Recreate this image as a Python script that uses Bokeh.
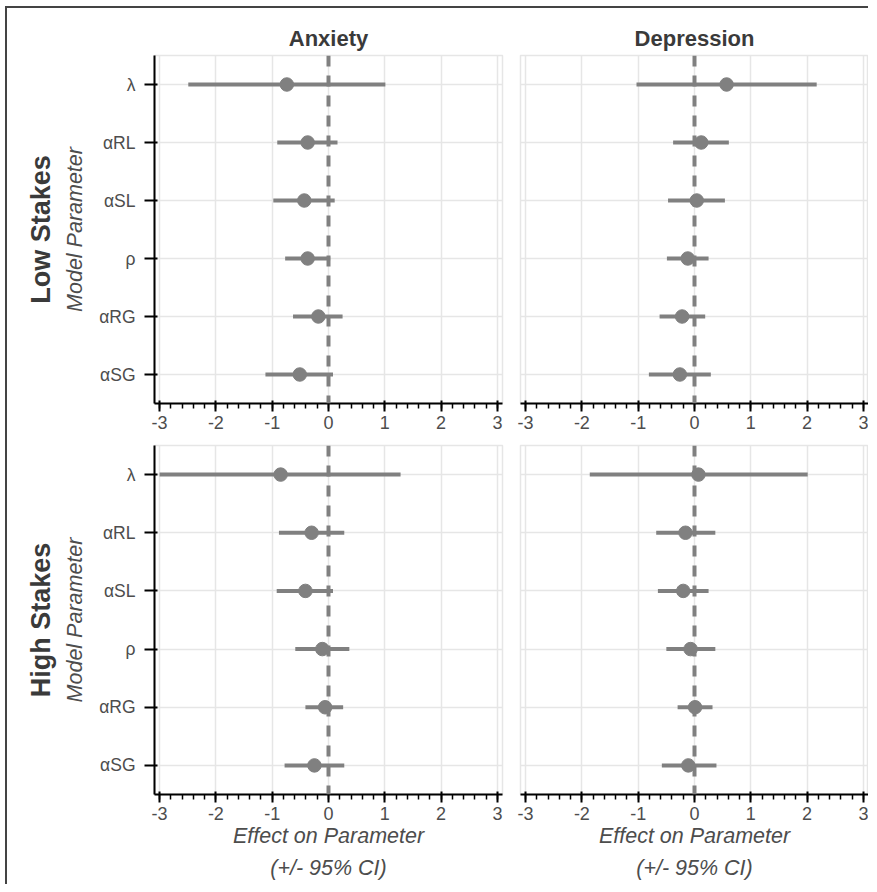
from bokeh.plotting import figure
from bokeh.layouts import gridplot
from bokeh.models import FactorRange, Range1d, Span, Title, SingleIntervalTicker, Grid, CategoricalTicker
from bokeh.embed import file_html
from bokeh.resources import INLINE

# ---- data ----
params = ["λ", "αRL", "αSL", "ρ", "αRG", "αSG"]
conditions = ["Anxiety", "Depression"]
stakes = ["Low Stakes", "High Stakes"]

anx_low_est = [-0.74, -0.37, -0.43, -0.37, -0.18, -0.51]
anx_low_lo = [-2.49, -0.91, -0.98, -0.77, -0.63, -1.12]
anx_low_hi = [1.01, 0.16, 0.11, 0.03, 0.25, 0.08]

dep_low_est = [0.57, 0.12, 0.04, -0.12, -0.22, -0.26]
dep_low_lo = [-1.03, -0.38, -0.47, -0.49, -0.62, -0.81]
dep_low_hi = [2.17, 0.61, 0.54, 0.25, 0.19, 0.29]

anx_high_est = [-0.85, -0.30, -0.41, -0.11, -0.06, -0.25]
anx_high_lo = [-3.0, -0.88, -0.92, -0.59, -0.41, -0.78]
anx_high_hi = [1.28, 0.28, 0.08, 0.37, 0.26, 0.28]

dep_high_est = [0.07, -0.16, -0.20, -0.07, 0.01, -0.11]
dep_high_lo = [-1.86, -0.68, -0.65, -0.50, -0.30, -0.58]
dep_high_hi = [2.01, 0.37, 0.25, 0.37, 0.32, 0.39]

x_ticks = [-3, -2, -1, 0, 1, 2, 3]
x_tick_labels = ["-3", "-2", "-1", "0", "1", "2", "3"]
x_lim = [-3.09, 3.09]

FONT = "Liberation Sans"
MARK = "#808080"
GRID = "#e6e6e6"
TICK_TXT = "#4d4d4d"
TITLE_TXT = "#3a3a3a"

panels = {
    (0, 0): (anx_low_est, anx_low_lo, anx_low_hi),
    (0, 1): (dep_low_est, dep_low_lo, dep_low_hi),
    (1, 0): (anx_high_est, anx_high_lo, anx_high_hi),
    (1, 1): (dep_high_est, dep_high_lo, dep_high_hi),
}

rows = []
for r in range(2):
    row = []
    for c in range(2):
        est, lo, hi = panels[(r, c)]
        top = r == 0
        left = c == 0
        width = 504 if left else 357
        height = 431 if top else 445
        p = figure(
            width=width, height=height,
            y_range=FactorRange(factors=list(reversed(params))),
            x_range=Range1d(x_lim[0], x_lim[1]),
            output_backend="svg", toolbar_location=None,
            y_axis_location="left" if left else None,
            min_border_left=147 if left else 9,
            min_border_right=9 if left else 0,
            min_border_top=47 if top else 6,
            min_border_bottom=36 if top else 90,
        )
        p.background_fill_color = "white"
        p.border_fill_color = "white"
        p.outline_line_color = GRID
        p.outline_line_width = 1.5

        # grids
        if len(p.ygrid) == 0:
            p.add_layout(Grid(dimension=1, ticker=CategoricalTicker()), "center")
        p.xgrid.grid_line_color = GRID
        p.xgrid.grid_line_width = 1.5
        p.ygrid.grid_line_color = GRID
        p.ygrid.grid_line_width = 1.5
        p.xgrid.minor_grid_line_color = None

        # x axis
        p.xaxis.ticker = SingleIntervalTicker(interval=1, num_minor_ticks=5)
        p.xaxis.major_label_overrides = dict(zip(x_ticks, x_tick_labels))
        p.xaxis.axis_line_color = "black"
        p.xaxis.axis_line_width = 2
        p.xaxis.major_tick_line_color = "black"
        p.xaxis.major_tick_line_width = 2
        p.xaxis.major_tick_in = 3
        p.xaxis.major_tick_out = 8
        p.xaxis.minor_tick_line_color = "black"
        p.xaxis.minor_tick_line_width = 1.5
        p.xaxis.minor_tick_in = 0
        p.xaxis.minor_tick_out = 5
        p.xaxis.major_label_text_font = FONT
        p.xaxis.major_label_text_font_size = "18px"
        p.xaxis.major_label_text_color = TICK_TXT
        p.xaxis.major_label_standoff = 4

        if left:
            p.yaxis.axis_line_color = "black"
            p.yaxis.axis_line_width = 2
            p.yaxis.major_tick_line_color = "black"
            p.yaxis.major_tick_line_width = 2
            p.yaxis.major_tick_in = 3
            p.yaxis.major_tick_out = 10
            p.yaxis.major_label_standoff = 9
            p.yaxis.major_label_text_font = FONT
            p.yaxis.major_label_text_font_size = "17.5px"
            p.yaxis.major_label_text_color = TICK_TXT
            p.yaxis.axis_label = "Model Parameter"
            p.yaxis.axis_label_text_font = FONT
            p.yaxis.axis_label_text_font_style = "italic"
            p.yaxis.axis_label_text_font_size = "21.5px"
            p.yaxis.axis_label_text_color = TICK_TXT
            p.yaxis.axis_label_standoff = 9
            p.add_layout(Title(text=stakes[r], align="center", text_font=FONT,
                               text_font_size="27px", text_font_style="bold",
                               text_color=TITLE_TXT, standoff=10), "left")

        if top:
            p.title.text = conditions[c]
            p.title.align = "center"
            p.title.text_font = FONT
            p.title.text_font_size = "22px"
            p.title.text_font_style = "bold"
            p.title.text_color = TITLE_TXT
            p.title.standoff = 10
        else:
            p.xaxis.axis_label = "Effect on Parameter"
            p.xaxis.axis_label_text_font = FONT
            p.xaxis.axis_label_text_font_style = "italic"
            p.xaxis.axis_label_text_font_size = "21.5px"
            p.xaxis.axis_label_text_color = TICK_TXT
            p.xaxis.axis_label_standoff = 1
            p.add_layout(Title(text="(+/- 95% CI)", align="center", text_font=FONT,
                               text_font_size="21.5px", text_font_style="italic",
                               text_color=TICK_TXT, standoff=6), "below")

        p.segment(x0=lo, y0=params, x1=hi, y1=params, line_color=MARK, line_width=4)
        p.scatter(x=est, y=params, size=13.5, fill_color=MARK, line_color=MARK)
        p.add_layout(Span(location=0, dimension="height", line_color=MARK,
                          line_width=4, line_dash="11 9"))
        row.append(p)
    rows.append(row)

grid = gridplot(rows, toolbar_location=None)
grid.margin = (6, 0, 0, 5)
grid.styles = {"border-left": "2px solid #444", "border-top": "2px solid #444"}

open("out.html", "w").write(file_html(grid, INLINE))
